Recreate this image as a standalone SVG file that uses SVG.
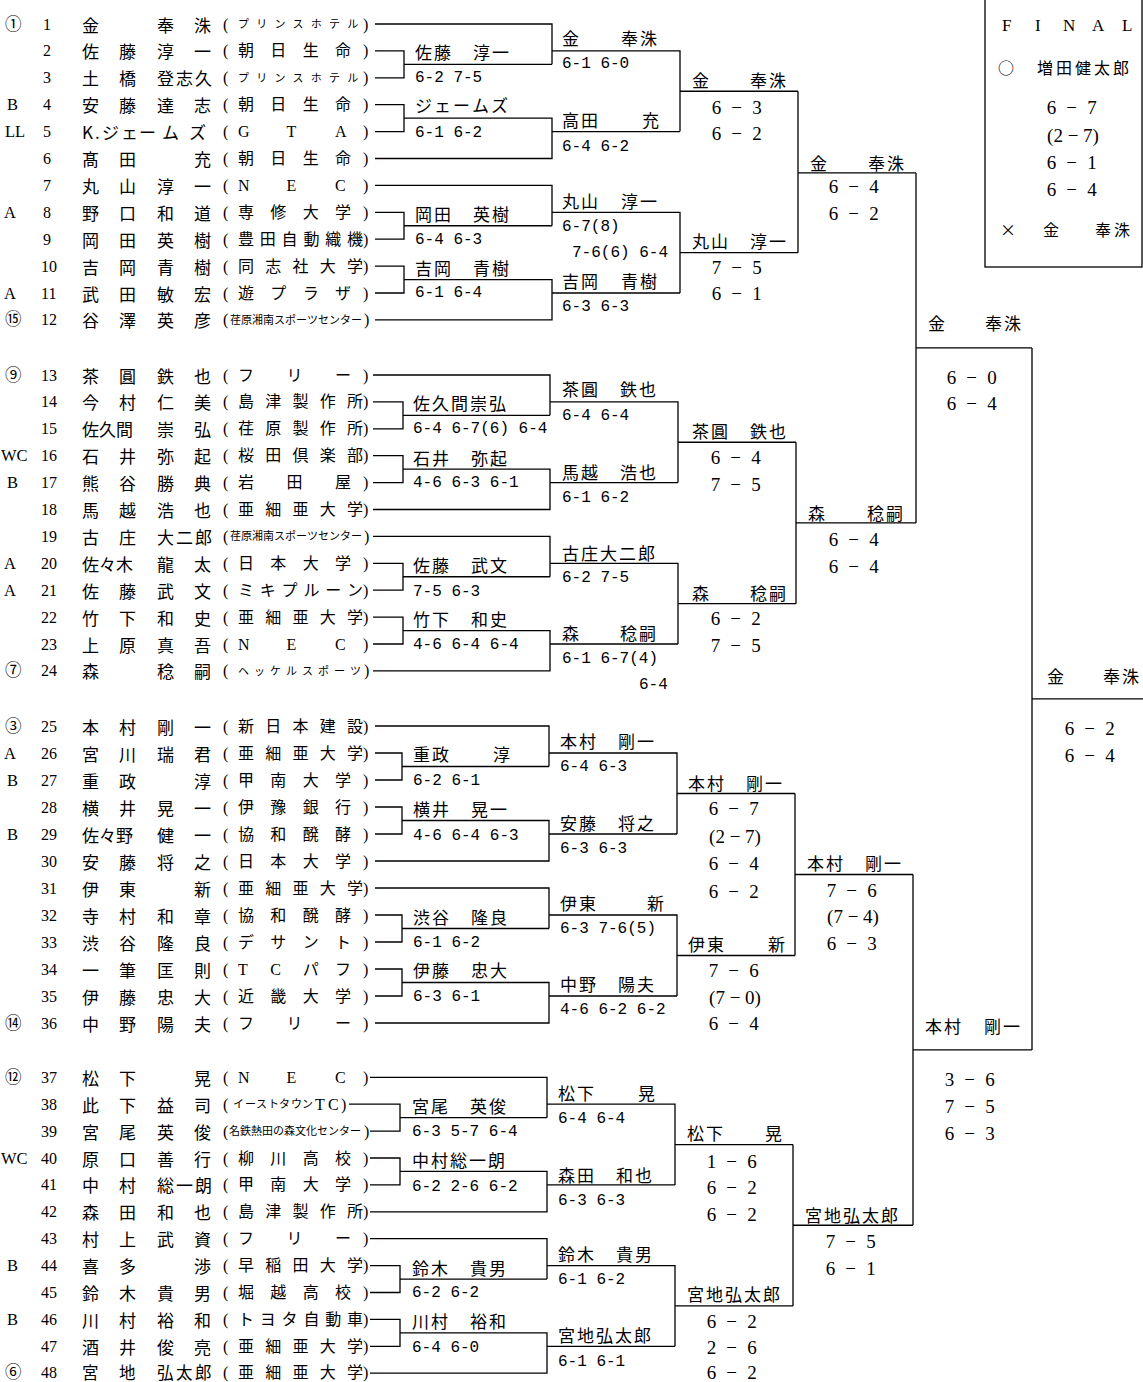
<svg xmlns="http://www.w3.org/2000/svg" width="1143" height="1382" viewBox="0 0 1143 1382">
<style>
text{dominant-baseline:central;fill:#000}
.sd{font-family:"Liberation Serif","Noto Sans CJK JP",serif;font-size:16.5px}
.n{font-family:"Liberation Serif",serif;font-size:16px}
.nm,.w{font-family:"Noto Sans CJK JP","Noto Sans CJK SC",sans-serif;font-size:17px}
.af{font-family:"Liberation Serif","Noto Sans CJK JP",serif;font-size:16px}
.k{font-size:11px}
.sc{font-family:"Liberation Mono",monospace;font-size:16px}
.bs{font-family:"Liberation Serif",serif;font-size:19px;text-anchor:middle;letter-spacing:2.7px}
.bp{letter-spacing:0}
.ln{fill:none;stroke:#000;stroke-width:1.3}
.fl{font-family:"Liberation Serif",serif;font-size:17px}
</style>
<rect width="1143" height="1382" fill="#fff"/>

<g id="connectors" class="ln">
<path d="M375 24H552V64.35M375 50.9H404V77.8H375M404 64.35H552M552 50.9H680V131.6M375 104.7H404V131.6H375M404 118.15H552V158.5H375M552 131.6H680M680 91.25H798"/>
<path d="M375 185.4H552V225.75M375 212.3H404V239.2H375M404 225.75H552M552 212.3H680V293M375 266.1H404V293H375M404 279.55H552V319.9H375M552 293H680M680 252.65H798"/>
<path d="M798 91.25V252.65M798 172.95H916"/>
<path d="M373 375H550V415.35M373 401.9H403V428.8H373M403 415.35H550M550 401.9H678V482.6M373 455.7H403V482.6H373M403 469.15H550V509.5H373M550 482.6H678M678 442.25H796"/>
<path d="M373 536.4H550V576.75M373 563.3H403V590.2H373M403 576.75H550M550 563.3H678V644M373 617.1H403V644H373M403 630.55H550V670.9H373M550 644H678M678 603.65H796"/>
<path d="M796 442.25V603.65M796 522.95H916"/>
<path d="M916 172.95V522.95M916 347.95H1032"/>
<path d="M375 726H549V766.5M375 753H402V780H375M402 766.5H549M549 753H677V834M375 807H402V834H375M402 820.5H549V861H375M549 834H677M677 793.5H795"/>
<path d="M375 888H549V928.5M375 915H402V942H375M402 928.5H549M549 915H677V996M375 969H402V996H375M402 982.5H549V1023H375M549 996H677M677 955.5H795"/>
<path d="M795 793.5V955.5M795 874.5H913"/>
<path d="M370 1077.3H547V1117.65M349 1104.2H400V1131.1H370M400 1117.65H547M547 1104.2H675V1184.9M370 1158H400V1184.9H370M400 1171.45H547V1211.8H370M547 1184.9H675M675 1144.55H793"/>
<path d="M370 1238.7H547V1279.05M370 1265.6H400V1292.5H370M400 1279.05H547M547 1265.6H675V1346.3M370 1319.4H400V1346.3H370M400 1332.85H547V1373.2H370M547 1346.3H675M675 1305.95H793"/>
<path d="M793 1144.55V1305.95M793 1225.25H913"/>
<path d="M913 874.5V1225.25M913 1049.9H1032"/>
<path d="M1032 347.95V1049.9M1032 698.9H1143"/>
</g>

<g id="players">
<g id="p1"><text class="sd" x="5" y="24">①</text><text class="n" x="43" y="24">1</text><text class="nm" x="82 157 194" y="24">金奉洙</text><text class="af" x="223 238 256.2 274.4 292.6 310.8 329 347.2 363" y="24">(<tspan class="k">プリンスホテル</tspan>)</text></g>
<g id="p2"><text class="n" x="43" y="50.9">2</text><text class="nm" x="82 119 157 194" y="50.9">佐藤淳一</text><text class="af" x="223 238 270.3 302.7 335 363" y="50.9">(朝日生命)</text></g>
<g id="p3"><text class="n" x="43" y="77.8">3</text><text class="nm" x="82 119 157 176 195" y="77.8">土橋登志久</text><text class="af" x="223 238 256.2 274.4 292.6 310.8 329 347.2 363" y="77.8">(<tspan class="k">プリンスホテル</tspan>)</text></g>
<g id="p4"><text class="sd" x="7" y="104.7">B</text><text class="n" x="43" y="104.7">4</text><text class="nm" x="82 119 157 194" y="104.7">安藤達志</text><text class="af" x="223 238 270.3 302.7 335 363" y="104.7">(朝日生命)</text></g>
<g id="p5"><text class="sd" x="5" y="131.6">LL</text><text class="n" x="43" y="131.6">5</text><text class="nm" x="82 95 102 121 139 162 189" y="131.6">K.ジェームズ</text><text class="af" x="223 238 286.5 335 363" y="131.6">(GTA)</text></g>
<g id="p6"><text class="n" x="43" y="158.5">6</text><text class="nm" x="82 119 194" y="158.5">髙田充</text><text class="af" x="223 238 270.3 302.7 335 363" y="158.5">(朝日生命)</text></g>
<g id="p7"><text class="n" x="43" y="185.4">7</text><text class="nm" x="82 119 157 194" y="185.4">丸山淳一</text><text class="af" x="223 238 286.5 335 363" y="185.4">(NEC)</text></g>
<g id="p8"><text class="sd" x="4" y="212.3">A</text><text class="n" x="43" y="212.3">8</text><text class="nm" x="82 119 157 194" y="212.3">野口和道</text><text class="af" x="223 238 270.3 302.7 335 363" y="212.3">(専修大学)</text></g>
<g id="p9"><text class="n" x="43" y="239.2">9</text><text class="nm" x="82 119 157 194" y="239.2">岡田英樹</text><text class="af" x="223 238 259.8 281.6 303.4 325.2 347 363" y="239.2">(豊田自動織機)</text></g>
<g id="p10"><text class="n" x="41" y="266.1">10</text><text class="nm" x="82 119 157 194" y="266.1">吉岡青樹</text><text class="af" x="223 238 265.3 292.5 319.8 347 363" y="266.1">(同志社大学)</text></g>
<g id="p11"><text class="sd" x="4" y="293">A</text><text class="n" x="41" y="293">11</text><text class="nm" x="82 119 157 194" y="293">武田敏宏</text><text class="af" x="223 238 270.3 302.7 335 363" y="293">(遊プラザ)</text></g>
<g id="p12"><text class="sd" x="5" y="319.9">⑮</text><text class="n" x="41" y="319.9">12</text><text class="nm" x="82 119 157 194" y="319.9">谷澤英彦</text><text class="af" x="223 230 241 252 263 274 285 296 307 318 329 340 351 364" y="319.9">(<tspan class="k">荏原湘南スポーツセンター</tspan>)</text></g>

<g id="p13"><text class="sd" x="5" y="375">⑨</text><text class="n" x="41" y="375">13</text><text class="nm" x="82 119 157 194" y="375">茶圓鉄也</text><text class="af" x="223 238 286.5 335 363" y="375">(フリー)</text></g>
<g id="p14"><text class="n" x="41" y="401.9">14</text><text class="nm" x="82 119 157 194" y="401.9">今村仁美</text><text class="af" x="223 238 265.3 292.5 319.8 347 363" y="401.9">(島津製作所)</text></g>
<g id="p15"><text class="n" x="41" y="428.8">15</text><text class="nm" x="82 99 116 157 194" y="428.8">佐久間崇弘</text><text class="af" x="223 238 265.3 292.5 319.8 347 363" y="428.8">(荏原製作所)</text></g>
<g id="p16"><text class="sd" x="1" y="455.7">WC</text><text class="n" x="41" y="455.7">16</text><text class="nm" x="82 119 157 194" y="455.7">石井弥起</text><text class="af" x="223 238 265.3 292.5 319.8 347 363" y="455.7">(桜田倶楽部)</text></g>
<g id="p17"><text class="sd" x="7" y="482.6">B</text><text class="n" x="41" y="482.6">17</text><text class="nm" x="82 119 157 194" y="482.6">熊谷勝典</text><text class="af" x="223 238 286.5 335 363" y="482.6">(岩田屋)</text></g>
<g id="p18"><text class="n" x="41" y="509.5">18</text><text class="nm" x="82 119 157 194" y="509.5">馬越浩也</text><text class="af" x="223 238 265.3 292.5 319.8 347 363" y="509.5">(亜細亜大学)</text></g>
<g id="p19"><text class="n" x="41" y="536.4">19</text><text class="nm" x="82 119 157 176 195" y="536.4">古庄大二郎</text><text class="af" x="223 230 241 252 263 274 285 296 307 318 329 340 351 364" y="536.4">(<tspan class="k">荏原湘南スポーツセンター</tspan>)</text></g>
<g id="p20"><text class="sd" x="4" y="563.3">A</text><text class="n" x="41" y="563.3">20</text><text class="nm" x="82 99 116 157 194" y="563.3">佐々木龍太</text><text class="af" x="223 238 270.3 302.7 335 363" y="563.3">(日本大学)</text></g>
<g id="p21"><text class="sd" x="4" y="590.2">A</text><text class="n" x="41" y="590.2">21</text><text class="nm" x="82 119 157 194" y="590.2">佐藤武文</text><text class="af" x="223 238 259.8 281.6 303.4 325.2 347 363" y="590.2">(ミキプルーン)</text></g>
<g id="p22"><text class="n" x="41" y="617.1">22</text><text class="nm" x="82 119 157 194" y="617.1">竹下和史</text><text class="af" x="223 238 265.3 292.5 319.8 347 363" y="617.1">(亜細亜大学)</text></g>
<g id="p23"><text class="n" x="41" y="644">23</text><text class="nm" x="82 119 157 194" y="644">上原真吾</text><text class="af" x="223 238 286.5 335 363" y="644">(NEC)</text></g>
<g id="p24"><text class="sd" x="5" y="670.9">⑦</text><text class="n" x="41" y="670.9">24</text><text class="nm" x="82 157 194" y="670.9">森稔嗣</text><text class="af" x="223 238 254 270 286 302 318 334 350 364" y="670.9">(<tspan class="k">ヘッケルスポーツ</tspan>)</text></g>

<g id="p25"><text class="sd" x="5" y="726">③</text><text class="n" x="41" y="726">25</text><text class="nm" x="82 119 157 194" y="726">本村剛一</text><text class="af" x="223 238 265.3 292.5 319.8 347 363" y="726">(新日本建設)</text></g>
<g id="p26"><text class="sd" x="4" y="753">A</text><text class="n" x="41" y="753">26</text><text class="nm" x="82 119 157 194" y="753">宮川瑞君</text><text class="af" x="223 238 265.3 292.5 319.8 347 363" y="753">(亜細亜大学)</text></g>
<g id="p27"><text class="sd" x="7" y="780">B</text><text class="n" x="41" y="780">27</text><text class="nm" x="82 119 194" y="780">重政淳</text><text class="af" x="223 238 270.3 302.7 335 363" y="780">(甲南大学)</text></g>
<g id="p28"><text class="n" x="41" y="807">28</text><text class="nm" x="82 119 157 194" y="807">横井晃一</text><text class="af" x="223 238 270.3 302.7 335 363" y="807">(伊豫銀行)</text></g>
<g id="p29"><text class="sd" x="7" y="834">B</text><text class="n" x="41" y="834">29</text><text class="nm" x="82 99 116 157 194" y="834">佐々野健一</text><text class="af" x="223 238 270.3 302.7 335 363" y="834">(協和醗酵)</text></g>
<g id="p30"><text class="n" x="41" y="861">30</text><text class="nm" x="82 119 157 194" y="861">安藤将之</text><text class="af" x="223 238 270.3 302.7 335 363" y="861">(日本大学)</text></g>
<g id="p31"><text class="n" x="41" y="888">31</text><text class="nm" x="82 119 194" y="888">伊東新</text><text class="af" x="223 238 265.3 292.5 319.8 347 363" y="888">(亜細亜大学)</text></g>
<g id="p32"><text class="n" x="41" y="915">32</text><text class="nm" x="82 119 157 194" y="915">寺村和章</text><text class="af" x="223 238 270.3 302.7 335 363" y="915">(協和醗酵)</text></g>
<g id="p33"><text class="n" x="41" y="942">33</text><text class="nm" x="82 119 157 194" y="942">渋谷隆良</text><text class="af" x="223 238 270.3 302.7 335 363" y="942">(デサント)</text></g>
<g id="p34"><text class="n" x="41" y="969">34</text><text class="nm" x="82 119 157 194" y="969">一筆匡則</text><text class="af" x="223 238 270.3 302.7 335 363" y="969">(TCパフ)</text></g>
<g id="p35"><text class="n" x="41" y="996">35</text><text class="nm" x="82 119 157 194" y="996">伊藤忠大</text><text class="af" x="223 238 270.3 302.7 335 363" y="996">(近畿大学)</text></g>
<g id="p36"><text class="sd" x="5" y="1023">⑭</text><text class="n" x="41" y="1023">36</text><text class="nm" x="82 119 157 194" y="1023">中野陽夫</text><text class="af" x="223 238 286.5 335 363" y="1023">(フリー)</text></g>

<g id="p37"><text class="sd" x="5" y="1077.3">⑫</text><text class="n" x="41" y="1077.3">37</text><text class="nm" x="82 119 194" y="1077.3">松下晃</text><text class="af" x="223 238 286.5 335 363" y="1077.3">(NEC)</text></g>
<g id="p38"><text class="n" x="41" y="1104.2">38</text><text class="nm" x="82 119 157 194" y="1104.2">此下益司</text><text class="af" x="223 233 245 256 268 279 291 302 315 328 341" y="1104.2">(<tspan class="k">イーストタウン</tspan>TC)</text></g>
<g id="p39"><text class="n" x="41" y="1131.1">39</text><text class="nm" x="82 119 157 194" y="1131.1">宮尾英俊</text><text class="af" x="223 229 240 251 262 273 284 295 306 317 328 339 350 364" y="1131.1">(<tspan class="k">名鉄熱田の森文化センター</tspan>)</text></g>
<g id="p40"><text class="sd" x="1" y="1158">WC</text><text class="n" x="41" y="1158">40</text><text class="nm" x="82 119 157 194" y="1158">原口善行</text><text class="af" x="223 238 270.3 302.7 335 363" y="1158">(柳川高校)</text></g>
<g id="p41"><text class="n" x="41" y="1184.9">41</text><text class="nm" x="82 119 157 176 195" y="1184.9">中村総一朗</text><text class="af" x="223 238 270.3 302.7 335 363" y="1184.9">(甲南大学)</text></g>
<g id="p42"><text class="n" x="41" y="1211.8">42</text><text class="nm" x="82 119 157 194" y="1211.8">森田和也</text><text class="af" x="223 238 265.3 292.5 319.8 347 363" y="1211.8">(島津製作所)</text></g>
<g id="p43"><text class="n" x="41" y="1238.7">43</text><text class="nm" x="82 119 157 194" y="1238.7">村上武資</text><text class="af" x="223 238 286.5 335 363" y="1238.7">(フリー)</text></g>
<g id="p44"><text class="sd" x="7" y="1265.6">B</text><text class="n" x="41" y="1265.6">44</text><text class="nm" x="82 119 194" y="1265.6">喜多渉</text><text class="af" x="223 238 265.3 292.5 319.8 347 363" y="1265.6">(早稲田大学)</text></g>
<g id="p45"><text class="n" x="41" y="1292.5">45</text><text class="nm" x="82 119 157 194" y="1292.5">鈴木貴男</text><text class="af" x="223 238 270.3 302.7 335 363" y="1292.5">(堀越高校)</text></g>
<g id="p46"><text class="sd" x="7" y="1319.4">B</text><text class="n" x="41" y="1319.4">46</text><text class="nm" x="82 119 157 194" y="1319.4">川村裕和</text><text class="af" x="223 238 259.8 281.6 303.4 325.2 347 363" y="1319.4">(トヨタ自動車)</text></g>
<g id="p47"><text class="n" x="41" y="1346.3">47</text><text class="nm" x="82 119 157 194" y="1346.3">酒井俊亮</text><text class="af" x="223 238 265.3 292.5 319.8 347 363" y="1346.3">(亜細亜大学)</text></g>
<g id="p48"><text class="sd" x="5" y="1372">⑥</text><text class="n" x="41" y="1372">48</text><text class="nm" x="82 119 157 176 195" y="1371.5" style="font-size:16.5px">宮地弘太郎</text><text class="af" x="223 238 265.3 292.5 319.8 347 363" y="1372">(亜細亜大学)</text></g>
</g>

<g id="round1">
<g id="r1-1"><text class="w" x="415 434 473 492" y="51">佐藤淳一</text><text class="sc" x="415" y="78">6-2 7-5</text></g>
<g id="r1-2"><text class="w" x="415 434 453 472 491" y="104">ジェームズ</text><text class="sc" x="415" y="133">6-1 6-2</text></g>
<g id="r1-3"><text class="w" x="415 434 473 492" y="213">岡田英樹</text><text class="sc" x="415" y="240">6-4 6-3</text></g>
<g id="r1-4"><text class="w" x="415 434 473 492" y="267">吉岡青樹</text><text class="sc" x="415" y="293">6-1 6-4</text></g>
<g id="r1-5"><text class="w" x="413 432 451 470 489" y="402">佐久間崇弘</text><text class="sc" x="413" y="429">6-4 6-7(6) 6-4</text></g>
<g id="r1-6"><text class="w" x="413 432 471 490" y="457">石井弥起</text><text class="sc" x="413" y="483">4-6 6-3 6-1</text></g>
<g id="r1-7"><text class="w" x="413 432 471 490" y="564">佐藤武文</text><text class="sc" x="413" y="592">7-5 6-3</text></g>
<g id="r1-8"><text class="w" x="413 432 471 490" y="618">竹下和史</text><text class="sc" x="413" y="645">4-6 6-4 6-4</text></g>
<g id="r1-9"><text class="w" x="413 432 493" y="753">重政淳</text><text class="sc" x="413" y="781">6-2 6-1</text></g>
<g id="r1-10"><text class="w" x="413 432 471 490" y="808">横井晃一</text><text class="sc" x="413" y="836">4-6 6-4 6-3</text></g>
<g id="r1-11"><text class="w" x="413 432 471 490" y="916">渋谷隆良</text><text class="sc" x="413" y="943">6-1 6-2</text></g>
<g id="r1-12"><text class="w" x="413 432 471 490" y="969">伊藤忠大</text><text class="sc" x="413" y="997">6-3 6-1</text></g>
<g id="r1-13"><text class="w" x="412 431 470 489" y="1105">宮尾英俊</text><text class="sc" x="412" y="1132">6-3 5-7 6-4</text></g>
<g id="r1-14"><text class="w" x="412 431 450 469 488" y="1159">中村総一朗</text><text class="sc" x="412" y="1187">6-2 2-6 6-2</text></g>
<g id="r1-15"><text class="w" x="412 431 470 489" y="1267">鈴木貴男</text><text class="sc" x="412" y="1293">6-2 6-2</text></g>
<g id="r1-16"><text class="w" x="412 431 470 489" y="1320">川村裕和</text><text class="sc" x="412" y="1348">6-4 6-0</text></g>
</g>

<g id="round2">
<g id="r2-1"><text class="w" x="562 621 640" y="37">金奉洙</text><text class="sc" x="562" y="64">6-1 6-0</text></g>
<g id="r2-2"><text class="w" x="562 581 642" y="119">高田充</text><text class="sc" x="562" y="147">6-4 6-2</text></g>
<g id="r2-3"><text class="w" x="562 581 621 640" y="200">丸山淳一</text><text class="sc" x="562" y="227">6-7(8)</text><text class="sc" x="572" y="253">7-6(6) 6-4</text></g>
<g id="r2-4"><text class="w" x="562 581 621 640" y="280">吉岡青樹</text><text class="sc" x="562" y="307">6-3 6-3</text></g>
<g id="r2-5"><text class="w" x="562 581 620 639" y="388">茶圓鉄也</text><text class="sc" x="562" y="416">6-4 6-4</text></g>
<g id="r2-6"><text class="w" x="562 581 620 639" y="471">馬越浩也</text><text class="sc" x="562" y="498">6-1 6-2</text></g>
<g id="r2-7"><text class="w" x="562 581 600 619 638" y="552">古庄大二郎</text><text class="sc" x="562" y="578">6-2 7-5</text></g>
<g id="r2-8"><text class="w" x="562 620 639" y="632">森稔嗣</text><text class="sc" x="562" y="659">6-1 6-7(4)</text><text class="sc" x="639" y="685">6-4</text></g>
<g id="r2-9"><text class="w" x="560 579 618 637" y="740">本村剛一</text><text class="sc" x="560" y="767">6-4 6-3</text></g>
<g id="r2-10"><text class="w" x="560 579 618 637" y="822">安藤将之</text><text class="sc" x="560" y="849">6-3 6-3</text></g>
<g id="r2-11"><text class="w" x="560 579 647" y="902">伊東新</text><text class="sc" x="560" y="929">6-3 7-6(5)</text></g>
<g id="r2-12"><text class="w" x="560 579 618 637" y="983">中野陽夫</text><text class="sc" x="560" y="1010">4-6 6-2 6-2</text></g>
<g id="r2-13"><text class="w" x="558 577 638" y="1092">松下晃</text><text class="sc" x="558" y="1119">6-4 6-4</text></g>
<g id="r2-14"><text class="w" x="558 577 616 635" y="1174">森田和也</text><text class="sc" x="558" y="1201">6-3 6-3</text></g>
<g id="r2-15"><text class="w" x="558 577 616 635" y="1253">鈴木貴男</text><text class="sc" x="558" y="1280">6-1 6-2</text></g>
<g id="r2-16"><text class="w" x="558 577 596 615 634" y="1334">宮地弘太郎</text><text class="sc" x="558" y="1362">6-1 6-1</text></g>
</g>

<g id="round3">
<g id="r3-1"><text class="w" x="692 750 769" y="79">金奉洙</text><text class="bs" x="738" y="107">6 − 3</text><text class="bs" x="738" y="133">6 − 2</text></g>
<g id="r3-2"><text class="w" x="692 711 750 769" y="240">丸山淳一</text><text class="bs" x="738" y="267">7 − 5</text><text class="bs" x="738" y="293">6 − 1</text></g>
<g id="r3-3"><text class="w" x="692 711 750 769" y="430">茶圓鉄也</text><text class="bs" x="737" y="457">6 − 4</text><text class="bs" x="737" y="484">7 − 5</text></g>
<g id="r3-4"><text class="w" x="692 750 769" y="592">森稔嗣</text><text class="bs" x="737" y="618">6 − 2</text><text class="bs" x="737" y="645">7 − 5</text></g>
<g id="r3-5"><text class="w" x="688 707 746 765" y="782">本村剛一</text><text class="bs" x="735" y="808">6 − 7</text><text class="bs bp" x="735" y="836">(2 − 7)</text><text class="bs" x="735" y="863">6 − 4</text><text class="bs" x="735" y="891">6 − 2</text></g>
<g id="r3-6"><text class="w" x="688 707 768" y="943">伊東新</text><text class="bs" x="735" y="970">7 − 6</text><text class="bs bp" x="735" y="997">(7 − 0)</text><text class="bs" x="735" y="1023">6 − 4</text></g>
<g id="r3-7"><text class="w" x="687 706 765" y="1132">松下晃</text><text class="bs" x="733" y="1161">1 − 6</text><text class="bs" x="733" y="1187">6 − 2</text><text class="bs" x="733" y="1214">6 − 2</text></g>
<g id="r3-8"><text class="w" x="687 706 725 744 763" y="1293">宮地弘太郎</text><text class="bs" x="733" y="1321">6 − 2</text><text class="bs" x="733" y="1347">2 − 6</text><text class="bs" x="733" y="1372">6 − 2</text></g>
</g>

<g id="round4">
<g id="r4-1"><text class="w" x="810 868 887" y="162">金奉洙</text><text class="bs" x="855" y="186">6 − 4</text><text class="bs" x="855" y="213">6 − 2</text></g>
<g id="r4-2"><text class="w" x="808 867 886" y="512">森稔嗣</text><text class="bs" x="855" y="539">6 − 4</text><text class="bs" x="855" y="566">6 − 4</text></g>
<g id="r4-3"><text class="w" x="807 826 865 884" y="862">本村剛一</text><text class="bs" x="853" y="890">7 − 6</text><text class="bs bp" x="853" y="916">(7 − 4)</text><text class="bs" x="853" y="943">6 − 3</text></g>
<g id="r4-4"><text class="w" x="805 824 843 862 881" y="1214">宮地弘太郎</text><text class="bs" x="852" y="1241">7 − 5</text><text class="bs" x="852" y="1268">6 − 1</text></g>
</g>

<g id="semifinals">
<g id="sf-1"><text class="w" x="928 985 1004" y="322">金奉洙</text><text class="bs" x="973" y="377">6 − 0</text><text class="bs" x="973" y="403">6 − 4</text></g>
<g id="sf-2"><text class="w" x="925 944 984 1003" y="1025">本村剛一</text><text class="bs" x="971" y="1079">3 − 6</text><text class="bs" x="971" y="1106">7 − 5</text><text class="bs" x="971" y="1133">6 − 3</text></g>
</g>

<g id="winner"><text class="w" x="1047 1103 1122" y="675">金奉洙</text><text class="bs" x="1091" y="728">6 − 2</text><text class="bs" x="1091" y="755">6 − 4</text></g>

<g id="final-box">
<rect x="985" y="-2" width="157" height="269" fill="none" stroke="#000" stroke-width="1.3"/>
<text class="fl" x="1002 1035 1063 1092 1122" y="25">FINAL</text>
<text class="w" x="998" y="67" style="font-size:16px">○</text>
<text class="w" x="1037 1056 1075 1094 1113" y="67" style="font-size:16px">増田健太郎</text>
<text class="bs" x="1073" y="107">6 − 7</text>
<text class="bs bp" x="1073" y="135">(2 − 7)</text>
<text class="bs" x="1073" y="162">6 − 1</text>
<text class="bs" x="1073" y="189">6 − 4</text>
<text class="w" x="1000" y="229" style="font-size:16px">×</text>
<text class="w" x="1043 1095 1114" y="229" style="font-size:16px">金奉洙</text>
</g>
</svg>
